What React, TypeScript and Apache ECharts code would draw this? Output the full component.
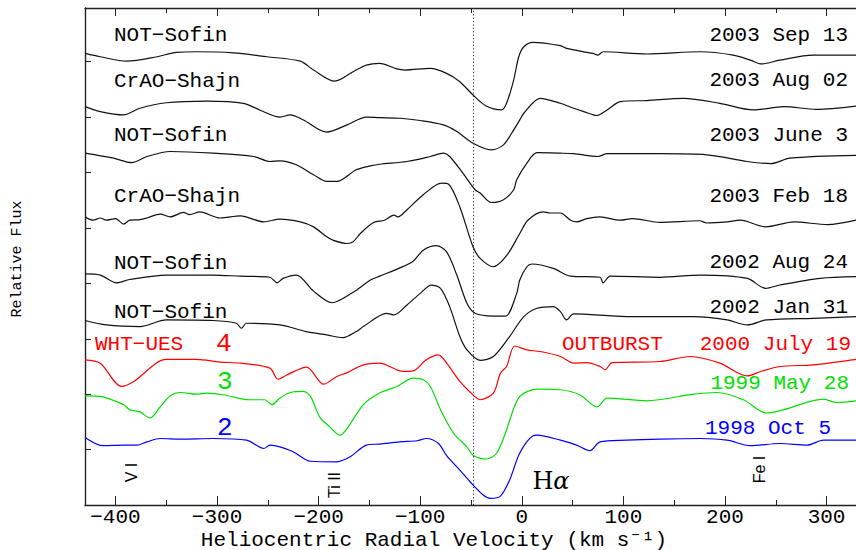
import React, { useEffect, useRef } from "react";
import * as echarts from "echarts";

// ---------- data ----------
const majorTicks = [-400, -300, -200, -100, 0, 100, 200, 300];
const minorTicks = [-350, -250, -150, -50, 50, 150, 250];
const fluxTicks = [1, 2, 3, 4, 5, 6, 7, 8];
const restVelocity = -48;

const sep13 = [[-430,8.15],[-415,8.09],[-389,8.01],[-359,8.09],[-340,8.17],[-320,8.18],[-284,8.16],[-251,8.09],[-218,8.01],[-205,7.85],[-184,7.65],[-166,7.82],[-153,7.94],[-140,7.97],[-123,7.87],[-115,7.85],[-90,7.88],[-74,7.79],[-61,7.64],[-48,7.40],[-35,7.20],[-20,7.13],[-15,7.25],[-8,7.67],[-3,8.09],[2,8.27],[11,8.35],[38,8.29],[44,8.24],[70,8.15],[75,8.12],[80,8.18],[123,8.14],[176,8.18],[208,8.12],[225,8.03],[236,7.96],[254,8.03],[287,8.12],[329,8.12]];
const aug02 = [[-430,7.19],[-415,7.10],[-392,7.04],[-376,7.16],[-350,7.26],[-310,7.29],[-274,7.25],[-258,7.13],[-238,7.00],[-228,7.04],[-215,6.95],[-192,6.73],[-172,6.86],[-153,7.00],[-140,6.99],[-120,6.98],[-100,6.94],[-77,6.86],[-64,6.74],[-48,6.53],[-30,6.41],[-18,6.50],[-10,6.71],[-2,6.95],[2,7.07],[18,7.34],[38,7.25],[51,7.16],[61,7.10],[74,7.03],[84,7.13],[97,7.28],[123,7.30],[159,7.34],[195,7.25],[228,7.13],[258,7.19],[290,7.14],[329,7.20]];
const jun03 = [[-430,6.35],[-402,6.26],[-384,6.18],[-369,6.29],[-346,6.38],[-304,6.35],[-264,6.29],[-248,6.20],[-238,6.21],[-222,6.14],[-205,5.96],[-192,5.84],[-182,5.84],[-163,6.05],[-149,6.12],[-140,6.15],[-113,6.20],[-90,6.29],[-77,6.35],[-71,6.29],[-58,5.99],[-46,5.69],[-41,5.63],[-30,5.46],[-18,5.51],[-8,5.69],[-5,5.87],[5,6.17],[15,6.36],[38,6.35],[51,6.34],[75,6.29],[84,6.34],[136,6.34],[182,6.32],[222,6.20],[245,6.16],[264,6.26],[329,6.31]];
const feb18 = [[-430,5.20],[-422,5.14],[-415,5.18],[-409,5.14],[-400,5.17],[-392,5.07],[-386,5.14],[-376,5.15],[-369,5.18],[-356,5.25],[-346,5.20],[-333,5.28],[-327,5.24],[-317,5.29],[-297,5.18],[-277,5.22],[-254,5.11],[-238,5.16],[-218,5.11],[-205,5.02],[-192,4.84],[-186,4.78],[-172,4.72],[-166,4.75],[-159,4.90],[-146,5.10],[-135,5.14],[-126,5.23],[-122,5.20],[-113,5.33],[-97,5.60],[-79,5.81],[-72,5.79],[-61,5.38],[-48,4.66],[-41,4.45],[-28,4.30],[-15,4.50],[-2,4.90],[6,5.14],[21,5.29],[28,5.27],[38,5.27],[48,5.14],[54,5.11],[64,5.17],[77,5.20],[97,5.14],[109,5.17],[136,5.10],[175,5.13],[182,5.09],[202,5.11],[215,5.14],[240,5.02],[268,5.11],[301,5.06],[329,5.14]];
const aug24 = [[-430,4.17],[-415,4.15],[-399,4.01],[-386,4.07],[-350,4.15],[-304,4.15],[-277,4.13],[-248,4.11],[-241,4.01],[-235,4.09],[-222,4.15],[-205,3.86],[-187,3.65],[-166,3.84],[-149,4.06],[-140,4.13],[-120,4.28],[-107,4.40],[-97,4.60],[-84,4.68],[-74,4.57],[-64,4.15],[-54,3.64],[-46,3.46],[-28,3.41],[-16,3.41],[-5,3.82],[-2,4.06],[5,4.30],[10,4.35],[31,4.27],[48,4.13],[77,4.11],[80,4.01],[87,4.13],[136,4.11],[176,4.15],[222,4.09],[240,3.91],[254,3.97],[294,4.09],[329,4.12]];
const jan31 = [[-430,3.33],[-409,3.25],[-376,3.22],[-350,3.34],[-304,3.33],[-281,3.28],[-276,3.19],[-271,3.28],[-238,3.25],[-212,3.13],[-192,3.07],[-176,3.02],[-163,3.13],[-156,3.22],[-133,3.46],[-126,3.43],[-113,3.61],[-100,3.82],[-89,3.97],[-80,3.91],[-71,3.58],[-61,3.04],[-54,2.80],[-41,2.61],[-28,2.68],[-12,3.04],[2,3.40],[15,3.55],[31,3.58],[38,3.49],[44,3.34],[51,3.45],[103,3.40],[169,3.40],[202,3.34],[222,3.25],[241,3.34],[287,3.37],[329,3.40]];
const jul19 = [[-430,2.62],[-415,2.56],[-394,2.14],[-382,2.23],[-350,2.63],[-320,2.63],[-297,2.58],[-277,2.56],[-248,2.47],[-240,2.27],[-231,2.35],[-212,2.49],[-195,2.18],[-182,2.32],[-172,2.39],[-156,2.53],[-140,2.56],[-117,2.41],[-107,2.42],[-94,2.62],[-82,2.71],[-74,2.56],[-61,2.23],[-51,2.04],[-41,1.90],[-28,2.02],[-21,2.38],[-15,2.50],[-7,2.87],[5,2.80],[18,2.77],[38,2.68],[51,2.56],[64,2.57],[77,2.50],[82,2.44],[89,2.57],[136,2.59],[166,2.68],[195,2.56],[222,2.33],[235,2.41],[254,2.50],[287,2.53],[329,2.63]];
const may28 = [[-430,1.97],[-415,1.96],[-392,1.81],[-386,1.72],[-376,1.68],[-366,1.57],[-356,1.77],[-346,1.97],[-336,2.03],[-320,2.00],[-310,2.02],[-294,1.99],[-268,1.90],[-253,1.90],[-246,1.81],[-238,1.93],[-228,2.03],[-215,2.05],[-208,1.96],[-199,1.59],[-189,1.41],[-179,1.26],[-172,1.38],[-156,1.81],[-140,2.02],[-123,2.14],[-107,2.29],[-97,2.26],[-90,2.14],[-80,1.72],[-67,1.29],[-54,1.05],[-48,0.90],[-35,0.83],[-25,0.93],[-15,1.35],[-12,1.53],[-2,1.96],[15,2.09],[38,2.08],[57,1.99],[74,1.77],[84,1.93],[123,1.88],[169,2.00],[192,2.03],[218,1.90],[241,1.66],[258,1.72],[297,1.91],[310,1.85],[329,1.88]];
const oct05 = [[-430,1.22],[-412,1.07],[-392,1.08],[-379,1.08],[-369,1.14],[-356,1.20],[-336,1.19],[-304,1.20],[-271,1.17],[-254,1.02],[-248,1.08],[-238,1.05],[-225,0.96],[-208,0.79],[-182,0.78],[-169,0.87],[-153,1.08],[-140,1.10],[-120,1.14],[-103,1.16],[-94,1.20],[-82,1.11],[-74,0.89],[-61,0.63],[-51,0.42],[-38,0.18],[-31,0.12],[-21,0.16],[-12,0.45],[-2,0.94],[11,1.25],[15,1.26],[38,1.17],[54,1.08],[67,0.98],[77,1.14],[103,1.17],[136,1.19],[176,1.20],[202,1.17],[225,1.07],[254,1.11],[281,1.08],[297,1.17],[329,1.17]];

const spectra = [sep13, aug02, jun03, feb18, aug24, jan31, jul19, may28, oct05];
const spectrumNames = ["2003 Sep 13", "2003 Aug 02", "2003 June 3", "2003 Feb 18", "2002 Aug 24", "2002 Jan 31", "2000 July 19", "1999 May 28", "1998 Oct 5"];
const instruments = ["NOT−Sofin", "CrAO−Shajn", "NOT−Sofin", "CrAO−Shajn", "NOT−Sofin", "NOT−Sofin"];
const blackDates = ["2003 Sep 13", "2003 Aug 02", "2003 June 3", "2003 Feb 18", "2002 Aug 24", "2002 Jan 31"];
const lineIds = ["V I", "Ti II", "Fe I"];

// ---------- styles ----------
const RED = "#ff0000";
const GREEN = "#00e000";
const BLUE = "#0000ff";
const BLACK = "#111111";
const seriesColors = [BLACK, BLACK, BLACK, BLACK, BLACK, BLACK, RED, GREEN, BLUE];
const MONO = '"Liberation Mono", "DejaVu Sans Mono", monospace';
const labelFont = `21px ${MONO}`;
const instY = [35.5, 81, 135.3, 196.3, 263.3, 312];
const dateY = [35.5, 80, 135, 196, 262.5, 307];
const lineIdPos = [[131, 472.5], [334, 485], [759, 469.5]];

function txt(text: string, x: number, y: number, font: string, fill: string, align = "left", extra: any = {}) {
  return {
    type: "text",
    x,
    y,
    silent: true,
    ...extra,
    style: {
      text,
      font,
      fill,
      align,
      textAlign: align,
      verticalAlign: "middle",
      textVerticalAlign: "middle",
    },
  };
}

export default function App() {
  const ref = useRef<HTMLDivElement>(null);
  useEffect(() => {
    if (!ref.current) return;
    const chart = echarts.init(ref.current, undefined, { renderer: "svg" });
    const axisCol = "#222";
    const xMin = -430;
    const xMax = 329;
    const mkX = (pos: string, ticks: number[], len: number, showLine: boolean, labels: boolean) => ({
      type: "value",
      min: xMin,
      max: xMax,
      position: pos,
      axisLine: { show: showLine, onZero: false, lineStyle: { color: axisCol, width: 1.4 } },
      axisTick: { show: true, inside: true, length: len, customValues: ticks, lineStyle: { color: axisCol, width: 1 } },
      axisLabel: labels
        ? {
            show: true,
            customValues: ticks,
            margin: 4,
            color: "#000",
            fontFamily: MONO,
            fontSize: 21,
            lineHeight: 16,
            formatter: (v: number) => String(v).replace("-", "−"),
          }
        : { show: false },
      splitLine: { show: false },
    });

    const graphics: any[] = [];
    instruments.forEach((t, i) => graphics.push(txt(t, 114, instY[i], labelFont, "#000")));
    blackDates.forEach((t, i) => graphics.push(txt(t, 848, dateY[i], labelFont, "#000", "right")));
    graphics.push(txt("WHT−UES", 95, 344.5, labelFont, RED));
    graphics.push(txt("4", 216, 344, `26px ${MONO}`, RED));
    graphics.push(txt("OUTBURST", 562, 344.5, labelFont, RED));
    graphics.push(txt(spectrumNames[6], 851, 344.5, labelFont, RED, "right"));
    graphics.push(txt("3", 217, 381.5, `26px ${MONO}`, GREEN));
    graphics.push(txt(spectrumNames[7], 849, 383.3, labelFont, GREEN, "right"));
    graphics.push(txt("2", 217, 427.5, `26px ${MONO}`, BLUE));
    graphics.push(txt(spectrumNames[8], 831, 428, labelFont, BLUE, "right"));
    lineIds.forEach((t, i) =>
      graphics.push(
        txt(t, lineIdPos[i][0], lineIdPos[i][1], '16px "Liberation Sans", Arial, sans-serif', "#000", "center", {
          rotation: Math.PI / 2,
        })
      )
    );
    graphics.push({
      type: "text",
      x: 551,
      y: 481,
      silent: true,
      style: {
        text: "{h|H}{a|α}",
        align: "center",
        textAlign: "center",
        verticalAlign: "middle",
        textVerticalAlign: "middle",
        fill: "#000",
        rich: {
          h: { font: '24px "DejaVu Serif", serif', fill: "#000" },
          a: { font: 'italic 24px "DejaVu Serif", serif', fill: "#000" },
        },
      },
    });
    graphics.push(txt("Heliocentric Radial Velocity (km s⁻¹)", 434, 540, labelFont, "#000", "center"));
    graphics.push(txt("Relative Flux", 17, 259, `15px ${MONO}`, "#000", "center", { rotation: Math.PI / 2 }));

    const series: any[] = spectra.map((d, i) => ({
      type: "line",
      name: spectrumNames[i],
      data: d,
      xAxisIndex: 0,
      yAxisIndex: 0,
      showSymbol: false,
      symbol: "none",
      smooth: 0.3,
      silent: true,
      lineStyle: { color: seriesColors[i], width: 1.2 },
      z: 3,
    }));
    series[0].markLine = {
      silent: true,
      symbol: ["none", "none"],
      label: { show: false },
      lineStyle: { color: "#333", width: 1, type: [1.2, 2.2] },
      data: [{ xAxis: restVelocity }],
    };

    chart.setOption({
      animation: false,
      backgroundColor: "#ffffff",
      grid: { left: 85, right: 0, top: 8, bottom: 45, containLabel: false, outerBoundsMode: "none" },
      xAxis: [
        mkX("bottom", majorTicks, 9, true, true),
        mkX("bottom", minorTicks, 5, false, false),
        mkX("top", majorTicks, 8, true, false),
        mkX("top", minorTicks, 5, false, false),
      ],
      yAxis: {
        type: "value",
        min: 0,
        max: 8.97,
        position: "left",
        axisLine: { show: true, onZero: false, lineStyle: { color: axisCol, width: 1.4 } },
        axisTick: { show: true, inside: true, length: 6, customValues: fluxTicks, lineStyle: { color: axisCol, width: 1 } },
        axisLabel: { show: false },
        splitLine: { show: false },
      },
      graphic: graphics,
      series,
    });
    return () => chart.dispose();
  }, []);
  return <div ref={ref} style={{ position: "absolute", left: 0, top: 0, width: 856, height: 550 }} />;
}
